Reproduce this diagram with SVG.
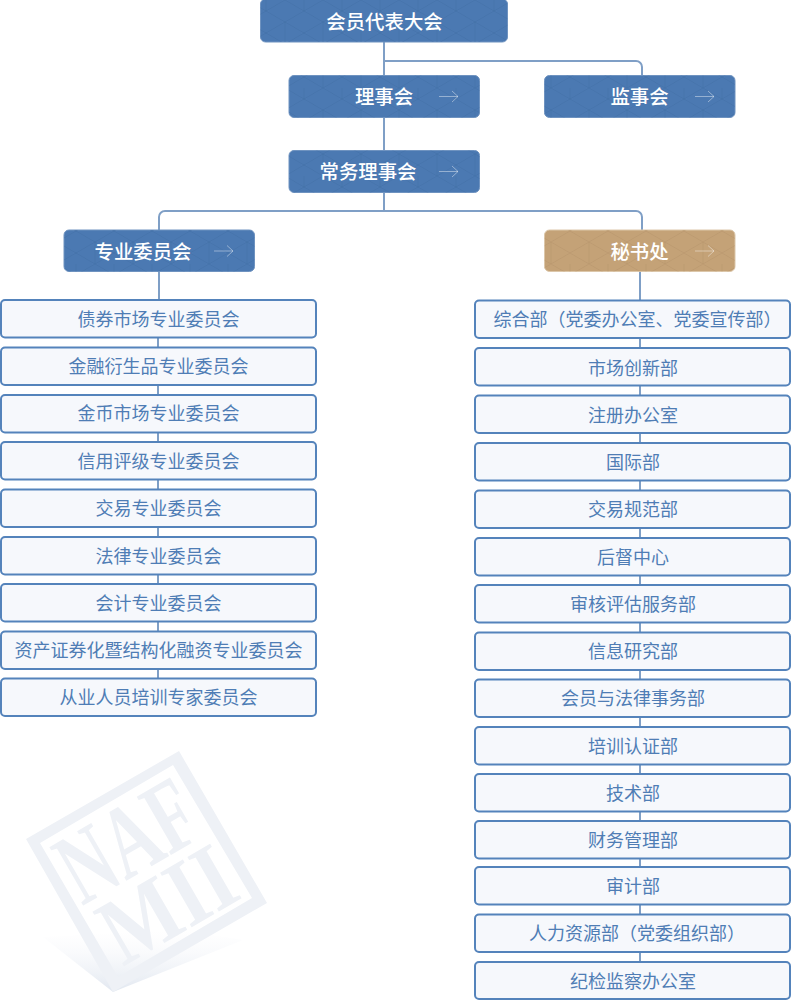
<svg xmlns="http://www.w3.org/2000/svg" width="791" height="1000" viewBox="0 0 791 1000">
<style>
text{font-family:"Noto Sans CJK SC","Noto Sans",sans-serif;text-anchor:middle}
.hd rect.b{fill:#4b79b2;stroke:#6f93c0;stroke-width:1}
.gold rect.b{fill:#c4a277;stroke:#dcc7aa;stroke-width:1}
.hd text,.gold text{fill:#fff;font-size:19.4px;font-weight:500}
.arr{fill:none;stroke:#fff;stroke-opacity:.42;stroke-width:1}
.it rect{fill:#f6f8fc;stroke:#5483bb;stroke-width:2}
.it text{fill:#4f7db5;font-size:18px}
.cn{fill:none;stroke:#7f9fc6;stroke-width:2}
.wm{fill:#eef1f6}
.lg{font-family:"Liberation Serif",serif;font-weight:700;fill:#eef1f6}
</style>
<defs>
<pattern id="pb" width="38" height="44" patternUnits="userSpaceOnUse">
<path d="M0 11 19 0 38 11M0 33 19 44 38 33M0 11 19 22 38 11M0 33 19 22 38 33M19 22V44M0 0V11M38 0V11" fill="none" stroke="#3f6ba3" stroke-opacity=".38" stroke-width="1"/>
</pattern>
<pattern id="pg" width="38" height="44" patternUnits="userSpaceOnUse">
<path d="M0 11 19 0 38 11M0 33 19 44 38 33M0 11 19 22 38 11M0 33 19 22 38 33M19 22V44M0 0V11M38 0V11" fill="none" stroke="#b08e63" stroke-opacity=".32" stroke-width="1"/>
</pattern>
<linearGradient id="sh" x1="0" y1="1" x2="0" y2="0"><stop offset="0" stop-color="#e1e7f0"/><stop offset="1" stop-color="#f7f8fb" stop-opacity="0"/></linearGradient>
</defs>

<g id="watermark">
<path d="M43 937 113 992 243 940 180 930Z" fill="url(#sh)"/>
<path class="wm" fill-rule="evenodd" d="M179 751 267 903 113 992 26 839ZM173 765 40 843 118 977 252 898Z"/>
<g transform="translate(147 871) rotate(-30)">
<text class="lg" x="-2" y="-2" font-size="103" textLength="144" lengthAdjust="spacingAndGlyphs">NAF</text>
<text class="lg" x="1" y="71" font-size="96" textLength="140" lengthAdjust="spacingAndGlyphs">MII</text>
</g>
</g>

<g id="connectors" class="cn">
<path d="M384 42V150M384 61H636a6 6 0 0 1 6 6V76M384 192V211M384 211H165a6 6 0 0 0-6 6V300M384 211H636a6 6 0 0 1 6 6V230M640 271V300"/>
<path d="M158 338V678M640 338V962"/>
</g>

<g id="n1" class="hd"><rect class="b" x="260.500" y="-1" width="247" height="43" rx="5"/><rect x="260.500" y="-1" width="247" height="43" rx="5" fill="url(#pb)"/><text x="384.500" y="29">会员代表大会</text></g>
<g id="n2" class="hd"><rect class="b" x="289" y="75.500" width="190.500" height="42" rx="5"/><rect x="289" y="75.500" width="190.500" height="42" rx="5" fill="url(#pb)"/><text x="384" y="104">理事会</text><path class="arr" d="M439 96.500H458M452 91l6 5.500-6 5.500"/></g>
<g id="n3" class="hd"><rect class="b" x="544.500" y="75.500" width="190.500" height="42" rx="5"/><rect x="544.500" y="75.500" width="190.500" height="42" rx="5" fill="url(#pb)"/><text x="639.500" y="104">监事会</text><path class="arr" d="M695 96.500H714M708 91l6 5.500-6 5.500"/></g>
<g id="n4" class="hd"><rect class="b" x="289" y="150.500" width="190.500" height="42" rx="5"/><rect x="289" y="150.500" width="190.500" height="42" rx="5" fill="url(#pb)"/><text x="368" y="179">常务理事会</text><path class="arr" d="M439 171.500H458M452 166l6 5.500-6 5.500"/></g>
<g id="n5" class="hd"><rect class="b" x="64" y="230" width="190.500" height="41.500" rx="5"/><rect x="64" y="230" width="190.500" height="41.500" rx="5" fill="url(#pb)"/><text x="143" y="258.500">专业委员会</text><path class="arr" d="M214 251H233M227 245.500l6 5.500-6 5.500"/></g>
<g id="n6" class="gold"><rect class="b" x="544.500" y="230" width="190.500" height="41.500" rx="5"/><rect x="544.500" y="230" width="190.500" height="41.500" rx="5" fill="url(#pg)"/><text x="639.500" y="258.500">秘书处</text><path class="arr" d="M695 251H714M708 245.500l6 5.500-6 5.500"/></g>

<g id="l1" class="it"><rect x="1" y="300" width="315" height="37.500" rx="4"/><text x="158.500" y="325.500">债券市场专业委员会</text></g>
<g id="l2" class="it"><rect x="1" y="347.500" width="315" height="37.500" rx="4"/><text x="158.500" y="372.500">金融衍生品专业委员会</text></g>
<g id="l3" class="it"><rect x="1" y="395" width="315" height="37.500" rx="4"/><text x="158.500" y="420">金币市场专业委员会</text></g>
<g id="l4" class="it"><rect x="1" y="442" width="315" height="37.500" rx="4"/><text x="158.500" y="467.500">信用评级专业委员会</text></g>
<g id="l5" class="it"><rect x="1" y="489.500" width="315" height="37.500" rx="4"/><text x="158.500" y="515">交易专业委员会</text></g>
<g id="l6" class="it"><rect x="1" y="537" width="315" height="37.500" rx="4"/><text x="158.500" y="562.500">法律专业委员会</text></g>
<g id="l7" class="it"><rect x="1" y="584" width="315" height="37.500" rx="4"/><text x="158.500" y="609.500">会计专业委员会</text></g>
<g id="l8" class="it"><rect x="1" y="631.500" width="315" height="37.500" rx="4"/><text x="158.500" y="656.500">资产证券化暨结构化融资专业委员会</text></g>
<g id="l9" class="it"><rect x="1" y="678.500" width="315" height="37.500" rx="4"/><text x="158.500" y="703.500">从业人员培训专家委员会</text></g>

<g id="r1" class="it"><rect x="475" y="300.500" width="315" height="37.500" rx="4"/><text x="637.500" y="326">综合部（党委办公室、党委宣传部）</text></g>
<g id="r2" class="it"><rect x="475" y="348" width="315" height="37.500" rx="4"/><text x="633" y="375">市场创新部</text></g>
<g id="r3" class="it"><rect x="475" y="395.500" width="315" height="37.500" rx="4"/><text x="633" y="422">注册办公室</text></g>
<g id="r4" class="it"><rect x="475" y="443" width="315" height="37.500" rx="4"/><text x="633" y="469">国际部</text></g>
<g id="r5" class="it"><rect x="475" y="490.500" width="315" height="37.500" rx="4"/><text x="633" y="516">交易规范部</text></g>
<g id="r6" class="it"><rect x="475" y="538" width="315" height="37.500" rx="4"/><text x="633" y="564">后督中心</text></g>
<g id="r7" class="it"><rect x="475" y="585" width="315" height="37.500" rx="4"/><text x="633" y="611">审核评估服务部</text></g>
<g id="r8" class="it"><rect x="475" y="632.500" width="315" height="37.500" rx="4"/><text x="633" y="658">信息研究部</text></g>
<g id="r9" class="it"><rect x="475" y="679.500" width="315" height="37.500" rx="4"/><text x="633" y="705">会员与法律事务部</text></g>
<g id="r10" class="it"><rect x="475" y="727" width="315" height="37.500" rx="4"/><text x="633" y="753">培训认证部</text></g>
<g id="r11" class="it"><rect x="475" y="774" width="315" height="37.500" rx="4"/><text x="633" y="800">技术部</text></g>
<g id="r12" class="it"><rect x="475" y="821" width="315" height="37.500" rx="4"/><text x="633" y="847">财务管理部</text></g>
<g id="r13" class="it"><rect x="475" y="867" width="315" height="37.500" rx="4"/><text x="633" y="893">审计部</text></g>
<g id="r14" class="it"><rect x="475" y="914.500" width="315" height="37.500" rx="4"/><text x="637" y="940">人力资源部（党委组织部）</text></g>
<g id="r15" class="it"><rect x="475" y="962" width="315" height="37" rx="4"/><text x="633" y="988">纪检监察办公室</text></g>
</svg>
